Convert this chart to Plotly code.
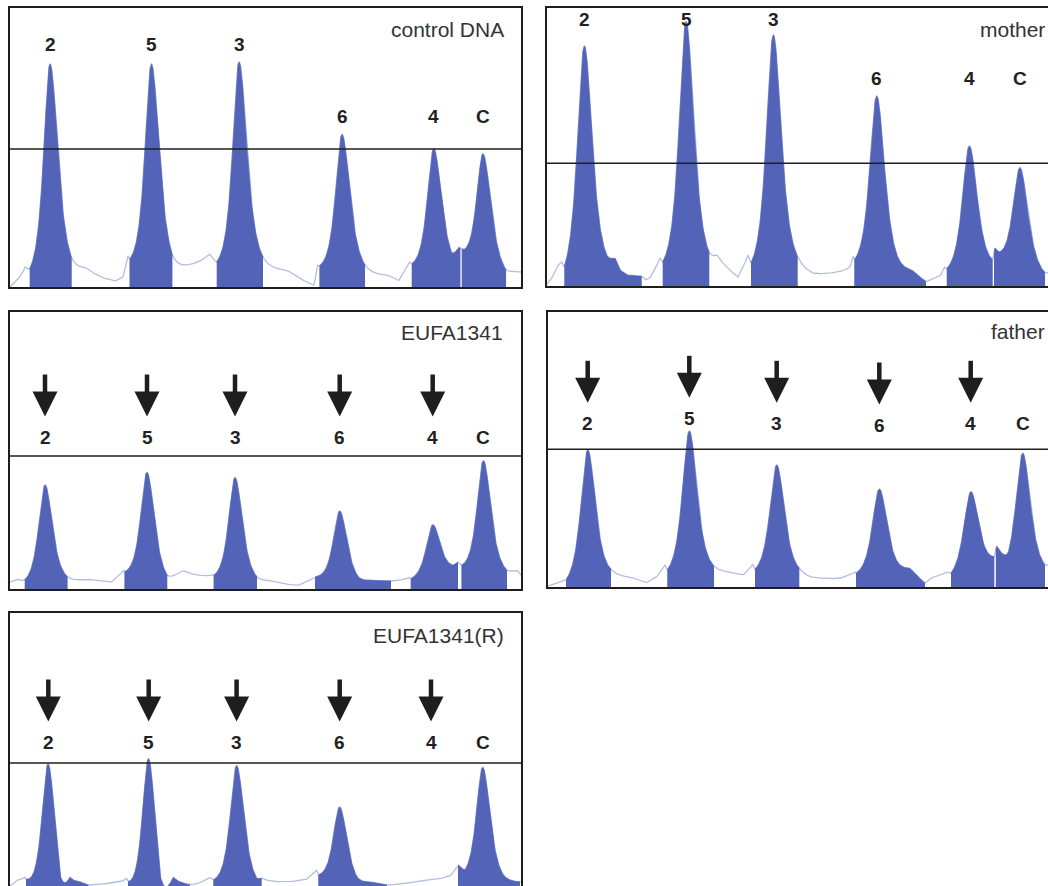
import numpy as np
import plotly.graph_objects as go

W, H = 1048, 886
PROBES = ["2", "5", "3", "6", "4", "C"]

# ---------------- data (x: migration units, y: signal units) ----------------
# control DNA
ctrl_pos = [40, 141.4, 229, 332, 423.7, 473]
ctrl_top = [223, 223, 225, 152.5, 138.3, 133.2]
ctrl_win_lo = [19.7, 119.5, 206.7, 309.4, 401.7, 451.7]
ctrl_win_hi = [61.7, 162.4, 253, 355, 450.4, 496]
ctrl_trace_x = [0, 8, 13, 15, 18, 19.7, 61.7, 75, 91, 105, 113, 118, 120, 162.4, 176, 190, 199.6, 204, 206.7,
                253, 277, 304, 307.7, 309.4, 355, 378.7, 388.8, 399.5, 401.7, 441.7, 449, 455, 496, 505, 511]
ctrl_trace_y = [0, 8, 15, 20, 18, 18, 29, 20, 10, 6, 10, 31, 28, 32, 22, 26, 33, 27, 25,
                30, 17, 2, 22, 21, 22, 11.5, 6.5, 25, 23, 34, 39.7, 38, 17, 16, 15]
ctrl_ref = 138

# mother
moth_pos = [37.3, 139, 226.3, 329.7, 422.3, 473]
moth_top = [240, 264.3, 251, 190, 140, 118.3]
moth_win_lo = [17.3, 115.7, 204, 307.3, 399.7, 447]
moth_win_hi = [94.7, 162.3, 250.7, 379, 445.7, 498]
moth_trace_x = [0, 5, 10, 14.7, 17.3, 60, 68, 73, 80, 94.7, 98, 103, 113, 115.7, 162.3, 170, 183, 191, 201, 204,
                250.7, 266, 283, 303, 306.3, 307.3, 351, 365, 379, 386, 393, 397.5, 399.7, 445.7, 448, 452, 497, 501]
moth_trace_y = [2, 8, 20, 24.3, 19.3, 30, 28, 16, 11, 10, 6, 8, 28, 24, 33, 31, 16, 9, 31, 23,
                29.3, 13, 13, 19, 30, 26, 28, 16, 4.3, 8, 10, 18.7, 17, 26, 38, 34, 14, 13]
moth_ref = 122.7

# EUFA1341
eufa_pos = [35, 137, 225, 329.7, 422.7, 473.4]
eufa_top = [104, 116.6, 111.5, 78, 64.2, 128.4]
eufa_win_lo = [14.7, 114.4, 203.6, 305, 400.7, 451.4]
eufa_win_hi = [57.6, 157.3, 247, 381, 448, 497]
eufa_trace_x = [0, 6.9, 12, 14.7, 57.6, 77.9, 101.5, 113.4, 114.4, 157.3, 172.5, 182.7, 199.6, 203.6, 247, 260.4,
                287.4, 299.3, 305, 348.3, 361.8, 381, 388.8, 399, 400.7, 443, 448, 451.4, 497, 507, 511]
eufa_trace_y = [7, 10, 8.5, 9, 12, 10, 7, 18.6, 17, 13.5, 18.6, 15, 13.5, 13.5, 12, 8.5,
                3.4, 8.5, 12, 12, 9, 8, 8.5, 12, 10, 23.7, 27, 23.7, 18.6, 19, 14]
eufa_ref = 133

# father
fath_pos = [39.7, 141.3, 228.7, 331.3, 422.7, 474.7]
fath_top = [137, 156, 122, 98, 95.3, 133.7]
fath_win_lo = [18, 119.3, 207, 308, 403, 447.8]
fath_win_hi = [63, 166, 251.3, 377, 446.3, 497]
fath_trace_x = [0, 2, 15.3, 18, 63, 82, 98.7, 108.7, 117, 119.3, 166, 182, 195.3, 204.7, 207, 251.3, 262, 292,
                307, 308, 350.3, 362, 377, 382, 398.7, 403, 446.3, 448.7, 460.3, 497, 500]
fath_trace_y = [1, 2, 7, 7, 17.7, 10.3, 4.3, 10.3, 22, 17, 21, 15.3, 12, 22.7, 17.7, 18.7, 10.3, 8.7,
                15.3, 13.7, 23.7, 18.7, 3.7, 8.7, 15.3, 13.7, 30.3, 41, 34.3, 22, 22]
fath_ref = 137.7

# EUFA1341(R)  (probe 4 absent)
eufr_pos = [38.3, 138.7, 226.6, 329.7, 421, 472.7]
eufr_top = [126, 131.1, 124.4, 83, None, 122.7]
eufr_win_lo = [16, 118, 203.3, 308.3, None, 448]
eufr_win_hi = [78.3, 180, 251.7, 377, None, 510]
eufr_trace_x = [0, 6.7, 15, 16, 50, 60, 70, 78.3, 90, 103, 116.7, 118, 150, 163.3, 176.7, 180, 190, 200, 203.3,
                246.7, 251.7, 260, 280, 296.7, 306.7, 308.3, 346.7, 360, 376.7, 393.3, 410, 426.7, 440, 448.3,
                455, 493.3, 510]
eufr_trace_y = [4, 10, 12.7, 10.7, 15, 12.7, 8.3, 5, 6, 7.3, 11.7, 8.3, 15, 12.7, 6, 5, 7.3, 12.7, 10,
                11.7, 12, 9.3, 8.3, 10.7, 20, 15, 13.3, 8.3, 5, 6, 9.3, 10.7, 14, 25,
                20, 15, 8.3]
eufr_ref = 127

# ---------------- styling / layout ----------------
FILL = "#5263b8"
TRACE = "#b4bde4"
INK = "#1e1e1e"
FONT = "Liberation Sans, Arial, sans-serif"
PEAK_POWER = 2.0

panels = [
    dict(name="control DNA", pos=ctrl_pos, top=ctrl_top, lo=ctrl_win_lo, hi=ctrl_win_hi,
         tx=ctrl_trace_x, ty=ctrl_trace_y, ref=ctrl_ref,
         box=(10, 8, 521, 287), y0=0, g=(11.5, 14.5), label_y=[242.4] * 3 + [170.4] * 3,
         name_xy=(496, 257.3), anchor="right", arrows=False, right_cut=False, bottom_cut=False),
    dict(name="mother", pos=moth_pos, top=moth_top, lo=moth_win_lo, hi=moth_win_hi,
         tx=moth_trace_x, ty=moth_trace_y, ref=moth_ref,
         box=(547, 8, 1048, 286), y0=0, g=(12.5, 14.5), label_y=[266] * 3 + [207] * 3,
         name_xy=(500, 256.7), anchor="right", arrows=False, right_cut=True, bottom_cut=False),
    dict(name="EUFA1341", pos=eufa_pos, top=eufa_top, lo=eufa_win_lo, hi=eufa_win_hi,
         tx=eufa_trace_x, ty=eufa_trace_y, ref=eufa_ref,
         box=(10, 312, 521, 589), y0=0, g=(11.5, 13.5), label_y=[152] * 6,
         name_xy=(494.6, 257), anchor="right", arrows=True, right_cut=False, bottom_cut=False),
    dict(name="father", pos=fath_pos, top=fath_top, lo=fath_win_lo, hi=fath_win_hi,
         tx=fath_trace_x, ty=fath_trace_y, ref=fath_ref,
         box=(548, 312, 1048, 587), y0=0, g=(12.5, 14), label_y=[163.7, 168.7, 163.7, 162, 163.7, 163.7],
         name_xy=(499, 255.3), anchor="right", arrows=True, right_cut=True, bottom_cut=False),
    dict(name="EUFA1341(R)", pos=eufr_pos, top=eufr_top, lo=eufr_win_lo, hi=eufr_win_hi,
         tx=eufr_trace_x, ty=eufr_trace_y, ref=eufr_ref,
         box=(10, 613, 521, 886), y0=4, g=(11.5, 13.5), label_y=[148] * 6,
         name_xy=(496, 254.5), anchor="right", arrows=True, right_cut=False, bottom_cut=True),
]


def build_signal(pos, top, tx, ty, gl, gr):
    c = np.array([p for p, t in zip(pos, top) if t is not None], float)
    tops = np.array([t for t in top if t is not None], float)
    tx = np.asarray(tx, float)
    ty = np.asarray(ty, float)

    def shp(dx):
        g = np.where(dx < 0, gl, gr)
        return (1.0 + (dx / g) ** 2) ** -PEAK_POWER

    A = tops - np.interp(c, tx, ty)
    for _ in range(80):
        contrib = sum(A[i] * shp(tx - c[i]) for i in range(len(c)))
        base = ty - contrib
        bc = np.interp(c, tx, base)
        newA = np.empty_like(A)
        for i in range(len(c)):
            others = sum(A[j] * shp(c[i] - c[j]) for j in range(len(c)) if j != i)
            newA[i] = tops[i] - bc[i] - others
        A = newA
    contrib = sum(A[i] * shp(tx - c[i]) for i in range(len(c)))
    base = ty - contrib

    def f(x):
        x = np.asarray(x, float)
        return np.interp(x, tx, base) + sum(A[i] * shp(x - c[i]) for i in range(len(c)))

    return f


fig = go.Figure()
layout = dict(width=W, height=H, margin=dict(l=0, r=0, t=0, b=0), paper_bgcolor="white",
              plot_bgcolor="white", showlegend=False, shapes=[], annotations=[])

for k, p in enumerate(panels, start=1):
    xa = "x" if k == 1 else f"x{k}"
    ya = "y" if k == 1 else f"y{k}"
    left, top_px, right, bottom = p["box"]
    wid = right - left
    hgt = bottom - top_px
    y0 = p["y0"]
    f = build_signal(p["pos"], p["top"], p["tx"], p["ty"], *p["g"])

    xg = np.linspace(0, wid, int(wid * 4) + 1)
    fig.add_trace(go.Scatter(x=xg, y=f(xg), mode="lines", line=dict(color=TRACE, width=1.3),
                             xaxis=xa, yaxis=ya, hoverinfo="skip"))
    for lo, hi in zip(p["lo"], p["hi"]):
        if lo is None:
            continue
        xs = np.linspace(lo, hi, int((hi - lo) * 4) + 2)
        fig.add_trace(go.Scatter(x=xs, y=f(xs), mode="lines", fill="tozeroy", fillcolor=FILL,
                                 line=dict(color=FILL, width=0.6), xaxis=xa, yaxis=ya, hoverinfo="skip"))

    axn = "xaxis" if k == 1 else f"xaxis{k}"
    ayn = "yaxis" if k == 1 else f"yaxis{k}"
    xdict = dict(domain=[left / W, right / W], range=[0, wid], showgrid=False, zeroline=False,
                 showticklabels=False, ticks="", showline=True, linecolor=INK, linewidth=2,
                 anchor=ya, fixedrange=True)
    ydict = dict(domain=[1 - bottom / H, 1 - top_px / H], range=[y0, y0 + hgt], showgrid=False,
                 zeroline=False, showticklabels=False, ticks="", showline=True, linecolor=INK,
                 linewidth=2, anchor=xa, fixedrange=True)
    if p["bottom_cut"]:
        xdict.update(side="top", mirror=False)
    else:
        xdict.update(mirror=True)
    ydict.update(mirror=not p["right_cut"])
    layout[axn] = xdict
    layout[ayn] = ydict

    # reference line
    layout["shapes"].append(dict(type="line", xref=f"{xa} domain", yref=ya, x0=0, x1=1,
                                 y0=p["ref"], y1=p["ref"], line=dict(color=INK, width=1.6)))

    # probe labels and arrows
    for i, lab in enumerate(PROBES):
        lx = p["pos"][i]
        ly = p["label_y"][i]
        layout["annotations"].append(dict(x=lx, y=ly, xref=xa, yref=ya, text=f"<b>{lab}</b>",
                                          showarrow=False, xanchor="center", yanchor="middle",
                                          font=dict(family=FONT, size=19, color="#222")))
        if p["arrows"] and lab != "C":
            tip = ly + 20.5
            hb = tip + 25
            st = hb + 17
            layout["shapes"].append(dict(type="line", xref=xa, yref=ya, x0=lx, x1=lx, y0=st, y1=hb - 1,
                                         line=dict(color=INK, width=4.5)))
            layout["shapes"].append(dict(type="path", xref=xa, yref=ya,
                                         path=f"M {lx - 12.5},{hb} L {lx + 12.5},{hb} L {lx},{tip} Z",
                                         fillcolor=INK, line=dict(width=0)))

    nx, ny = p["name_xy"]
    layout["annotations"].append(dict(x=nx, y=ny, xref=xa, yref=ya, text=p["name"], showarrow=False,
                                      xanchor=p["anchor"], yanchor="middle",
                                      font=dict(family=FONT, size=21, color="#333")))

fig.update_layout(**layout)
fig.write_html("out.html")
